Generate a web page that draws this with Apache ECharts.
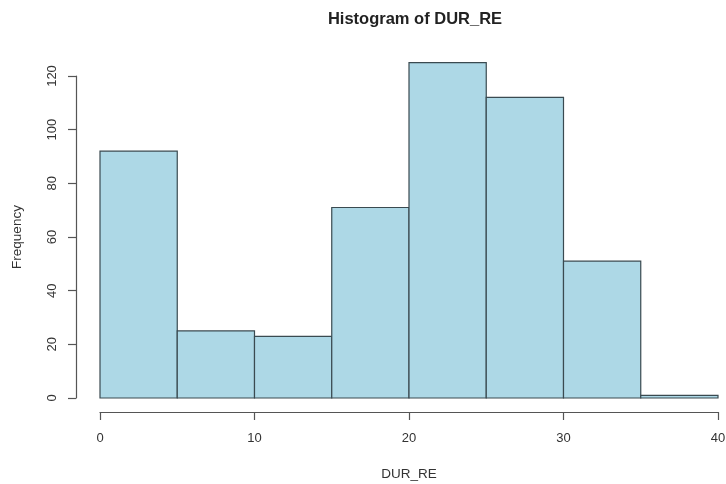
<!DOCTYPE html>
<html>
<head>
<meta charset="utf-8">
<script src="https://cdn.jsdelivr.net/npm/echarts@6/dist/echarts.min.js"></script>
<style>html,body{margin:0;padding:0;background:#fff}#c{width:726px;height:484px}</style>
</head>
<body>
<div id="c"></div>
<script>
const binStarts = [0, 5, 10, 15, 20, 25, 30, 35];
const binEnds = [5, 10, 15, 20, 25, 30, 35, 40];
const counts = [92, 25, 23, 71, 125, 112, 51, 1];
const xTicks = [0, 10, 20, 30, 40];
const yTicks = [0, 20, 40, 60, 80, 100, 120];

const FONT = '"Liberation Sans", Arial, sans-serif';
const chart = echarts.init(document.getElementById('c'), null, {renderer: 'canvas'});
const data = binStarts.map((s, i) => [s, binEnds[i], counts[i]]);

chart.setOption({
  animation: false,
  backgroundColor: '#fff',
  title: {
    text: 'Histogram of DUR_RE',
    left: 410, top: 6, textAlign: 'center',
    textStyle: {fontFamily: FONT, fontSize: 16.5, fontWeight: 'bold', color: '#222'}
  },
  grid: {left: 100, right: 8, top: 76, bottom: 86, outerBoundsMode: 'none', containLabel: false},
  xAxis: {
    type: 'value', min: 0, max: 40, interval: 10, offset: 14,
    name: 'DUR_RE', nameLocation: 'middle', nameGap: 55,
    nameTextStyle: {fontFamily: FONT, fontSize: 13.5, color: '#333'},
    axisLine: {show: true, onZero: false, lineStyle: {color: '#555', width: 1.2}},
    axisTick: {show: true, length: 8, lineStyle: {color: '#555', width: 1.2}},
    axisLabel: {fontFamily: FONT, fontSize: 13, color: '#333', margin: 20,
      formatter: v => xTicks.includes(v) ? String(v) : ''},
    splitLine: {show: false}
  },
  yAxis: {
    type: 'value', min: 0, max: 120, interval: 20, offset: 24,
    name: 'Frequency', nameLocation: 'middle', nameGap: 52, nameRotate: 90,
    nameTextStyle: {fontFamily: FONT, fontSize: 13.5, color: '#333'},
    axisLine: {show: true, onZero: false, lineStyle: {color: '#555', width: 1.2}},
    axisTick: {show: true, length: 8, lineStyle: {color: '#555', width: 1.2}},
    axisLabel: {fontFamily: FONT, fontSize: 13, color: '#333', rotate: 90, margin: 17,
      formatter: v => yTicks.includes(v) ? String(v) : ''},
    splitLine: {show: false}
  },
  series: [{
    type: 'custom',
    clip: false,
    data: data,
    encode: {x: [0, 1], y: 2},
    renderItem: function (params, api) {
      const p0 = api.coord([api.value(0), 0]);
      const p1 = api.coord([api.value(1), api.value(2)]);
      return {
        type: 'rect',
        shape: {x: p0[0], y: p1[1], width: p1[0] - p0[0], height: p0[1] - p1[1]},
        style: {fill: '#ADD8E6', stroke: '#3a4a50', lineWidth: 1.2}
      };
    }
  }]
});
</script>
</body>
</html>
